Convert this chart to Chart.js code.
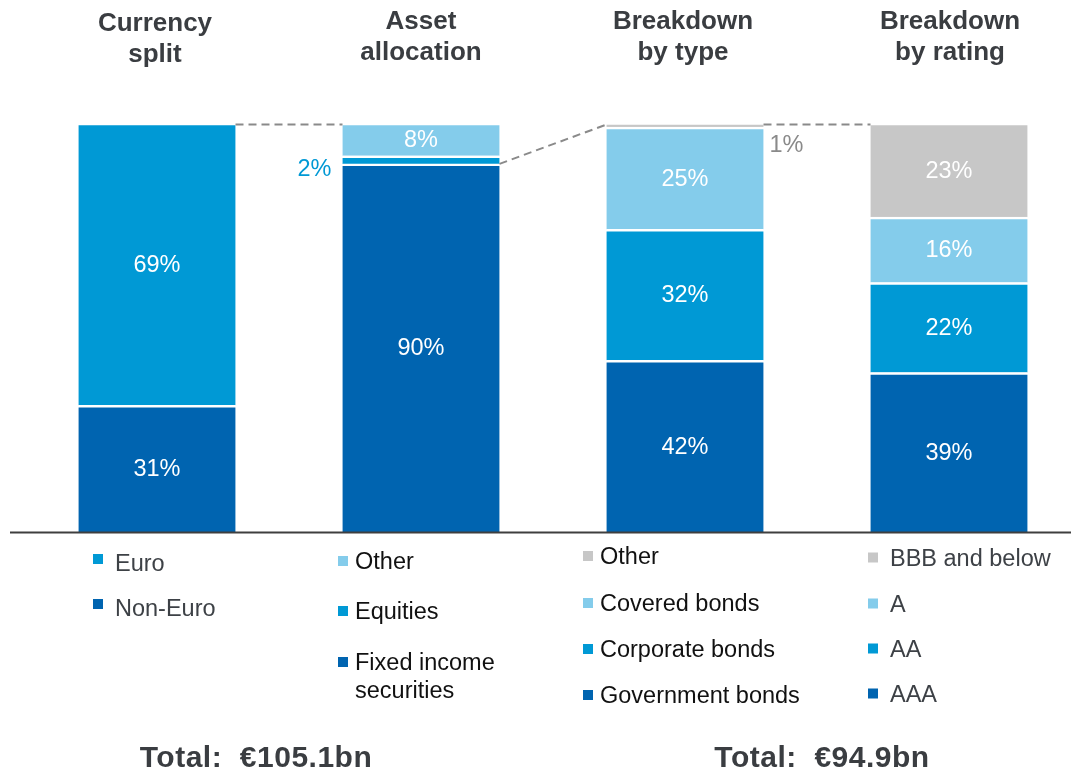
<!DOCTYPE html>
<html>
<head>
<meta charset="utf-8">
<script src="https://cdn.jsdelivr.net/npm/chart.js@4"></script>
<style>
  html, body { margin: 0; padding: 0; background: #ffffff; }
  #wrap { width: 1071px; height: 773px; }
</style>
</head>
<body>
<div id="wrap"><canvas id="c" width="1071" height="773"></canvas></div>
<script>
// ---------------- DATA ----------------
const categories = ['Currency split', 'Asset allocation', 'Breakdown by type', 'Breakdown by rating'];
const headerLines = [['Currency', 'split'], ['Asset', 'allocation'], ['Breakdown', 'by type'], ['Breakdown', 'by rating']];

// values listed bottom -> top
const currencySplit   = [31, 69];
const currencyNames   = ['Non-Euro', 'Euro'];
const assetAllocation = [90, 2, 8];
const assetNames      = ['Fixed income\nsecurities', 'Equities', 'Other'];
const byType          = [42, 32, 25, 1];
const typeNames       = ['Government bonds', 'Corporate bonds', 'Covered bonds', 'Other'];
const byRating        = [39, 22, 16, 23];
const ratingNames     = ['AAA', 'AA', 'A', 'BBB and below'];

const totals = ['Total:  €105.1bn', 'Total:  €94.9bn'];

// ---------------- STYLE ----------------
const levelColors = ['#0064B0', '#0099D5', '#84CCEB', '#C7C7C7'];
const FONT = '"Liberation Sans", Arial, Helvetica, sans-serif';

const columns = [currencySplit, assetAllocation, byType, byRating];
const columnNames = [currencyNames, assetNames, typeNames, ratingNames];
const maxLevels = Math.max(...columns.map(c => c.length));

const datasets = [];
for (let k = 0; k < maxLevels; k++) {
  datasets.push({
    label: 'level' + k,
    data: columns.map(c => (k < c.length ? c[k] : null)),
    backgroundColor: levelColors[k],
    borderColor: '#ffffff',
    borderWidth: { top: 2.5, left: 0, right: 0, bottom: 0 },
    borderSkipped: 'start',
    barThickness: 157,
    clip: false
  });
}

// legend layout (style only)
const legendSquareX = [93, 338, 583, 868];
const legendTextGap = [12, 7, 7, 12];
const legendBaselines = [[571, 616], [569, 619, 670], [564, 611, 657, 703], [566, 612, 657, 702]];
const legendSquareOff = [17, 13, 13, 13.5];
const legendTextColor = ['#3d4146', '#111111', '#111111', '#3d4146'];

const overlayPlugin = {
  id: 'overlay',
  afterDatasetsDraw(chart) {
    const ctx = chart.ctx;
    const area = chart.chartArea;
    const seg = (lvl, col) => chart.getDatasetMeta(lvl).data[col];
    ctx.save();

    // baseline axis
    ctx.strokeStyle = '#3f3f3f';
    ctx.lineWidth = 2;
    ctx.beginPath();
    ctx.moveTo(10, area.bottom + 0.5);
    ctx.lineTo(1071, area.bottom + 0.5);
    ctx.stroke();

    // dashed connectors
    const topOf = col => seg(columns[col].length - 1, col);
    ctx.strokeStyle = '#8a8a8a';
    ctx.lineWidth = 2;
    ctx.setLineDash([8, 5]);
    const b0 = topOf(0), b1 = topOf(1), b2 = topOf(2), b3 = topOf(3);
    const fixedTop = seg(0, 1);
    const lines = [
      [b0.x + b0.width / 2, b0.y + 1.5, b1.x - b1.width / 2, b1.y + 1.5],
      [fixedTop.x + fixedTop.width / 2, fixedTop.y, b2.x - b2.width / 2, b2.y + 1.5],
      [b2.x + b2.width / 2, b2.y + 1.5, b3.x - b3.width / 2, b3.y + 1.5]
    ];
    lines.forEach(l => {
      ctx.beginPath();
      ctx.moveTo(l[0], l[1]);
      ctx.lineTo(l[2], l[3]);
      ctx.stroke();
    });
    ctx.setLineDash([]);

    // segment labels
    ctx.font = '23.5px ' + FONT;
    columns.forEach((col, ci) => {
      col.forEach((v, k) => {
        const el = seg(k, ci);
        const cy = (el.y + el.base) / 2;
        const txt = v + '%';
        if (v >= 5) {
          ctx.fillStyle = '#ffffff';
          ctx.textAlign = 'center';
          ctx.textBaseline = 'middle';
          ctx.fillText(txt, el.x, cy + 1);
        } else if (ci === 1) {
          ctx.fillStyle = '#0099D5';
          ctx.textAlign = 'right';
          ctx.textBaseline = 'middle';
          ctx.fillText(txt, el.x - el.width / 2 - 11, cy + 10);
        } else {
          ctx.fillStyle = '#8a8a8a';
          ctx.textAlign = 'left';
          ctx.textBaseline = 'middle';
          ctx.fillText(txt, el.x + el.width / 2 + 6, cy + 20);
        }
      });
    });

    // headers
    ctx.fillStyle = '#3a3d41';
    ctx.font = 'bold 26px ' + FONT;
    ctx.textAlign = 'center';
    ctx.textBaseline = 'alphabetic';
    const headerX = [155, 421, 683, 950];
    const headerBase = [[30.5, 62], [28.5, 60], [28.5, 60], [28.5, 60]];
    headerLines.forEach((lns, i) => {
      lns.forEach((t, j) => ctx.fillText(t, headerX[i], headerBase[i][j]));
    });

    // legends
    ctx.font = '23.5px ' + FONT;
    ctx.textAlign = 'left';
    columnNames.forEach((names, ci) => {
      const n = names.length;
      for (let r = 0; r < n; r++) {
        const k = n - 1 - r; // top segment first
        const base = legendBaselines[ci][r];
        ctx.fillStyle = levelColors[k];
        ctx.fillRect(legendSquareX[ci], base - legendSquareOff[ci], 10, 10);
        ctx.fillStyle = legendTextColor[ci];
        const parts = names[k].split('\n');
        parts.forEach((p, pi) => {
          ctx.fillText(p, legendSquareX[ci] + 10 + legendTextGap[ci], base + pi * 28);
        });
      }
    });

    // totals
    ctx.fillStyle = '#3a3d41';
    ctx.font = 'bold 30px ' + FONT;
    ctx.textAlign = 'center';
    try { ctx.letterSpacing = '0.5px'; } catch (e) {}
    ctx.fillText(totals[0], 256, 767);
    ctx.fillText(totals[1], 822, 767);
    try { ctx.letterSpacing = '0px'; } catch (e) {}

    ctx.restore();
  }
};

new Chart(document.getElementById('c'), {
  type: 'bar',
  data: { labels: categories, datasets },
  options: {
    responsive: false,
    animation: false,
    devicePixelRatio: 1,
    layout: { padding: { left: 157, right: 122, top: 123, bottom: 241 } },
    plugins: { legend: { display: false }, tooltip: { enabled: false }, title: { display: false } },
    scales: {
      x: { stacked: true, offset: false, display: false, grid: { display: false } },
      y: { stacked: true, min: 0, max: 100, display: false, grid: { display: false } }
    }
  },
  plugins: [overlayPlugin]
});
</script>
</body>
</html>
